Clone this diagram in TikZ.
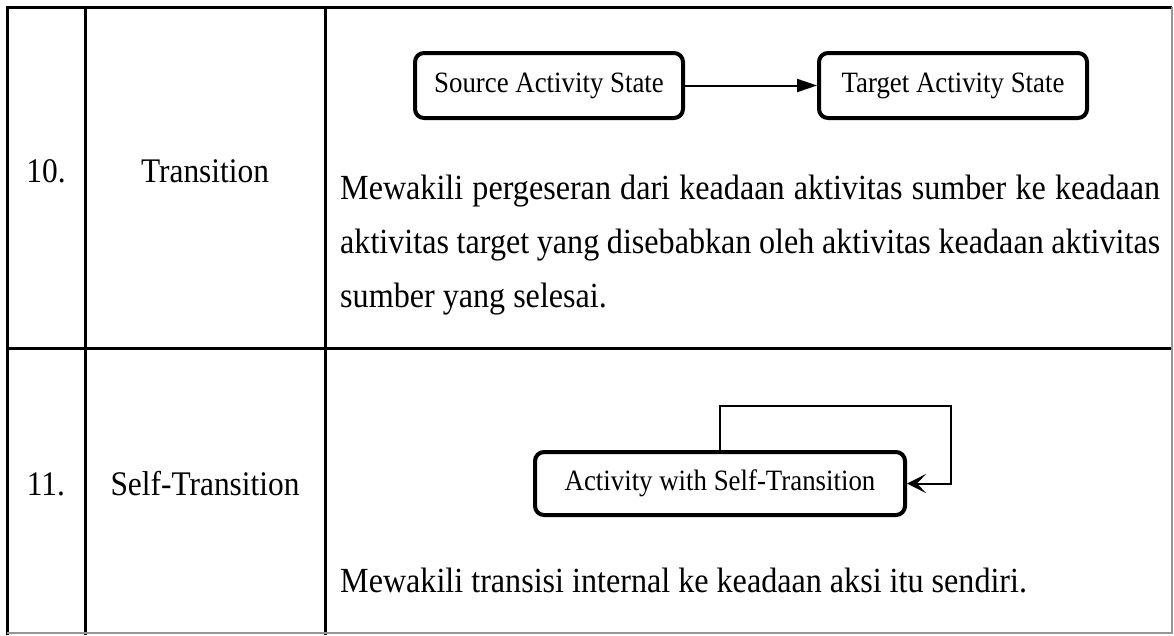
\documentclass[tikz,border=0pt]{standalone}
\usepackage{fontspec}
\setmainfont{Liberation Serif}[FakeStretch=0.91]
\usetikzlibrary{positioning,arrows.meta}
\definecolor{rulegray}{RGB}{150,150,150}

\tikzset{
  actbox/.style={draw,line width=4pt,rounded corners=9pt,minimum width=268pt,minimum height=65pt,inner sep=0pt,font=\fontsize{29.5}{34}\selectfont},
  cell/.style={anchor=base,inner sep=0pt,font=\fontsize{34.5}{40}\selectfont},
  desc/.style={anchor=base west,inner sep=0pt,text width=820pt,align=justify,font=\fontsize{35.3}{54}\selectfont},
  flow/.style={line width=2pt,-{Triangle[length=20pt,width=13pt]}},
  selfflow/.style={line width=2pt,-{Stealth[length=19pt,width=19pt,inset=9pt]}}
}

\begin{document}
\begin{tikzpicture}[x=1pt,y=-1pt]
\useasboundingbox (0,0) rectangle (1174,635);
% table
\draw[line width=3pt] (7,635) -- (7,7) -- (1172,7);
\draw[line width=3pt] (85,7) -- (85,635);
\draw[line width=3pt] (325,7) -- (325,635);
\draw[line width=3pt] (7,348) -- (1172,348);
\draw[rulegray,line width=1.5pt] (1172,7) -- (1172,633) -- (7,633);
% row 10
\node[cell] (num10) at (46,182) {10.};
\node[cell] (name10) at (205,182) {Transition};
\node[actbox] (src) at (549,85.5) {Source Activity State};
\node[actbox,right=132pt of src] (tgt) {Target Activity State};
\draw[flow] (src) -- (tgt);
\node[desc] (desc10) at (340,199) {Mewakili pergeseran dari keadaan aktivitas sumber ke keadaan\linebreak aktivitas target yang disebabkan oleh aktivitas keadaan aktivitas\linebreak sumber yang selesai.};
% row 11
\node[cell] (num11) at (46,495) {11.};
\node[cell] (name11) at (205,495) {Self-Transition};
\node[actbox,minimum width=370pt,minimum height=63pt] (selfact) at (720,483.5) {Activity with Self-Transition};
\coordinate (loopturn) at (951,406);
\draw[selfflow] (selfact.north) |- (loopturn) |- (selfact.east);
\node[desc] (desc11) at (340,592) {Mewakili transisi internal ke keadaan aksi itu sendiri.};
\end{tikzpicture}
\end{document}
